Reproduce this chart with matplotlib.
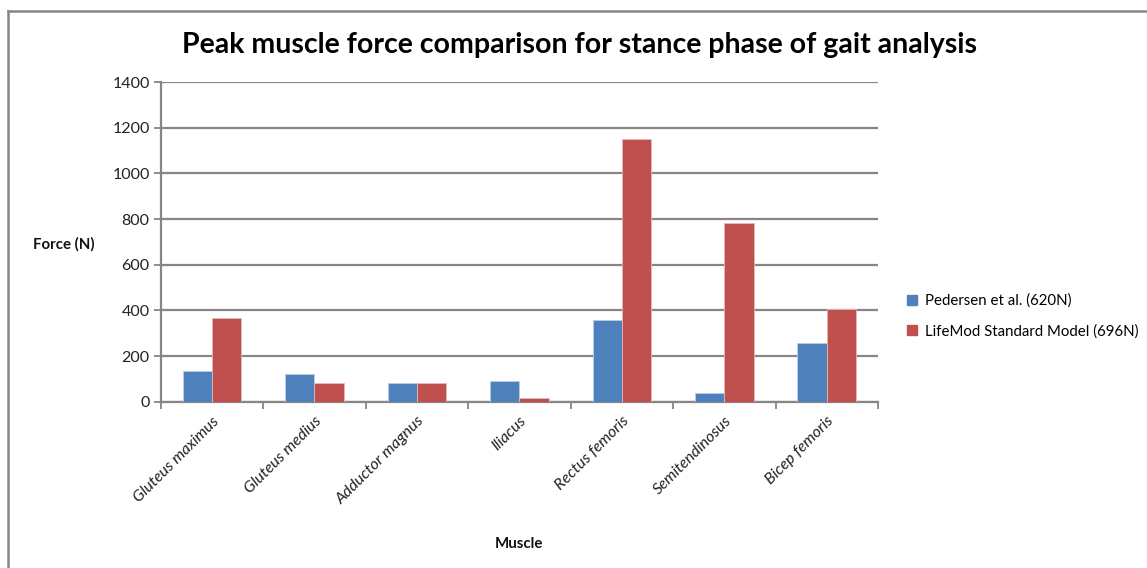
import matplotlib
matplotlib.use("Agg")
import matplotlib.pyplot as plt
import numpy as np
from matplotlib.lines import Line2D

categories = ["Gluteus maximus", "Gluteus medius", "Adductor magnus", "Iliacus",
              "Rectus femoris", "Semitendinosus", "Bicep femoris"]
pedersen = [133, 121, 83, 89, 356, 38, 256]
lifemod = [366, 83, 83, 16, 1152, 784, 406]
series_names = ["Pedersen et al. (620N)", "LifeMod Standard Model (696N)"]
yticks = [0, 200, 400, 600, 800, 1000, 1200, 1400]

plt.rcParams['font.family'] = ['Lato', 'DejaVu Sans']

W, H = 1147, 568
fig = plt.figure(figsize=(W / 100, H / 100), dpi=100)
ax = fig.add_axes([160.7 / W, 1 - 401.7 / H, (878 - 160.7) / W, (401.7 - 82) / H])

blue = "#4F81BD"
red = "#C0504D"
grid_c = "#868686"

x = np.arange(len(categories))
bw = 0.2857
ax.bar(x - bw / 2, pedersen, bw, color=blue, edgecolor="#B9CDE5", linewidth=0.6,
       label=series_names[0], zorder=3)
ax.bar(x + bw / 2, lifemod, bw, color=red, edgecolor="#E6B9B8", linewidth=0.6,
       label=series_names[1], zorder=3)

ax.set_xlim(-0.5, len(categories) - 0.5)
ax.set_ylim(0, 1400)
ax.set_yticks(yticks)
ax.set_yticklabels([str(v) for v in yticks], fontsize=11.5, color="#222222")
ax.yaxis.grid(True, color=grid_c, linewidth=1.6, zorder=0)
ax.set_axisbelow(True)

ax.set_xticks(np.arange(-0.5, len(categories), 1.0))
ax.set_xticklabels([])
ax.set_xticks(x, minor=True)
ax.set_xticklabels(categories, minor=True, rotation=45, ha='right',
                   rotation_mode='anchor', fontsize=11.5, fontstyle='italic',
                   color="#222222")
ax.tick_params(axis='x', which='minor', length=0, pad=9)
ax.tick_params(axis='x', which='major', length=5, color=grid_c, width=1.3)
ax.tick_params(axis='y', length=5, color=grid_c, width=1.3, pad=3)

for s in ['top', 'right']:
    ax.spines[s].set_visible(False)
for s in ['left', 'bottom']:
    ax.spines[s].set_color(grid_c)
    ax.spines[s].set_linewidth(1.6)

fig.text(580 / W, 1 - 45 / H, "Peak muscle force comparison for stance phase of gait analysis",
         ha='center', va='center', fontsize=20.5, fontweight='bold', color="#000000")
fig.text(64 / W, 1 - 244 / H, "Force (N)", ha='center', va='center',
         fontsize=10.8, fontweight='bold', color="#111111")
fig.text(519 / W, 1 - 544 / H, "Muscle", ha='center', va='center',
         fontsize=10.8, fontweight='bold', color="#111111")

handles = [plt.Rectangle((0, 0), 1, 1, color=blue), plt.Rectangle((0, 0), 1, 1, color=red)]
leg = fig.legend(handles, series_names, loc='center left',
                 bbox_to_anchor=(893 / W, 1 - 316 / H), frameon=False,
                 fontsize=10.8, handlelength=0.7, handleheight=0.7,
                 handletextpad=0.55, labelspacing=1.05)

# outer chart border (top and left visible)
fig.add_artist(Line2D([8 / W, 1.0], [1 - 11 / H, 1 - 11 / H], color=grid_c, linewidth=1.8,
                      transform=fig.transFigure))
fig.add_artist(Line2D([8 / W, 8 / W], [1 - 11 / H, 0.0], color=grid_c, linewidth=1.8,
                      transform=fig.transFigure))

fig.savefig("out.png", dpi=100)
